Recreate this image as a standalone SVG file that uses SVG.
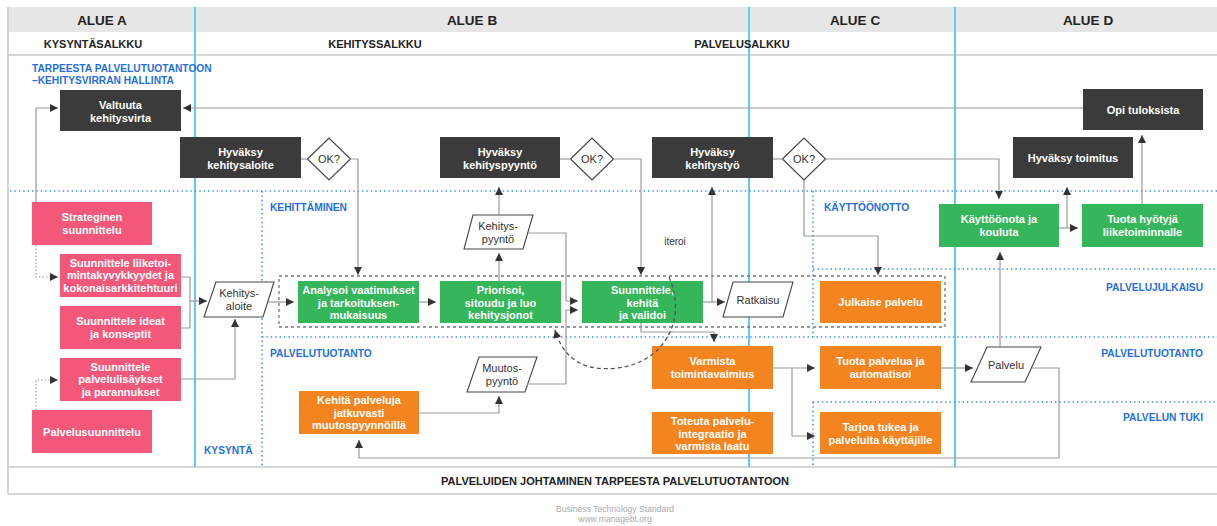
<svg xmlns="http://www.w3.org/2000/svg" width="1217" height="526" viewBox="0 0 1217 526">
  <style>
    .hdr { font-family: "Liberation Sans", Arial, sans-serif; font-weight: bold; font-size: 13.5px; fill: #222; text-anchor: middle; }
    .sub { font-family: "Liberation Sans", Arial, sans-serif; font-weight: bold; font-size: 11px; fill: #222; text-anchor: middle; }
    .lane { font-family: "Liberation Sans", Arial, sans-serif; font-weight: bold; font-size: 10.2px; fill: #1f6fdf; }
    .lane-r { font-family: "Liberation Sans", Arial, sans-serif; font-weight: bold; font-size: 10.2px; fill: #1f6fdf; text-anchor: end; }
    .nt { font-family: "Liberation Sans", Arial, sans-serif; font-weight: bold; font-size: 11px; fill: #fff; text-anchor: middle; }
    .pt { font-family: "Liberation Sans", Arial, sans-serif; font-size: 11px; fill: #333; text-anchor: middle; }
    .small { font-family: "Liberation Sans", Arial, sans-serif; font-size: 10px; fill: #333; text-anchor: middle; }
    .foot { font-family: "Liberation Sans", Arial, sans-serif; font-size: 8.6px; fill: #aaa; text-anchor: middle; }
    .dark { fill: #3b3b3b; }
    .pink { fill: #f3587b; }
    .green { fill: #35b65a; }
    .orange { fill: #f4841f; }
    .para { fill: #fff; stroke: #444; stroke-width: 1.1; }
    .dia { fill: #fff; stroke: #444; stroke-width: 1.2; }
    .frame { stroke: #c8c8c8; stroke-width: 1.5; fill: none; }
    .col { stroke: #5fcdf2; stroke-width: 2; }
    .laneline { stroke: #3b8ef0; stroke-width: 1.6; stroke-dasharray: 1.4 3; fill: none; }
    .c { stroke: #9a9a9a; stroke-width: 1.2; fill: none; }
    .ca { stroke: #9a9a9a; stroke-width: 1.2; fill: none; marker-end: url(#ah); }
    .dot { stroke: #9a9a9a; stroke-width: 1.2; fill: none; stroke-dasharray: 1.5 2; marker-end: url(#ah); }
    .dash { stroke: #555; stroke-width: 1.3; fill: none; stroke-dasharray: 4 3; marker-end: url(#ah); }
    .grp { stroke: #777; stroke-width: 1.3; fill: none; stroke-dasharray: 3 3; }
  </style>
  <defs>
    <marker id="ah" viewBox="0 0 10 10" refX="10" refY="5" markerWidth="9" markerHeight="8" markerUnits="userSpaceOnUse" orient="auto">
      <path d="M0,0 L10,5 L0,10 z" fill="#333"/>
    </marker>
  </defs>

  <rect width="1217" height="526" fill="#fff"/>

  <!-- frame and column headers -->
  <g id="frame">
    <rect x="8" y="7" width="1209" height="25" fill="#e6e6e6"/>
    <line class="frame" x1="8" y1="7" x2="8" y2="494"/>
    <line class="frame" x1="8" y1="55" x2="1217" y2="55"/>
    <line class="frame" x1="8" y1="467" x2="1217" y2="467"/>
    <line class="frame" x1="8" y1="494" x2="1217" y2="494"/>
    <line class="col" x1="195" y1="7" x2="195" y2="467"/>
    <line class="col" x1="749" y1="7" x2="749" y2="467"/>
    <line class="col" x1="955" y1="7" x2="955" y2="467"/>
    <text class="hdr" x="102" y="25">ALUE A</text>
    <text class="hdr" x="472" y="25">ALUE B</text>
    <text class="hdr" x="855" y="25">ALUE C</text>
    <text class="hdr" x="1088" y="25">ALUE D</text>
    <text class="sub" x="93" y="48">KYSYNTÄSALKKU</text>
    <text class="sub" x="375" y="48">KEHITYSSALKKU</text>
    <text class="sub" x="742" y="48">PALVELUSALKKU</text>
    <text class="sub" x="615" y="485">PALVELUIDEN JOHTAMINEN TARPEESTA PALVELUTUOTANTOON</text>
    <text class="foot" x="615" y="512">Business Technology Standard</text>
    <text class="foot" x="615" y="522">www.managebt.org</text>
  </g>

  <!-- swimlane separators and labels -->
  <g id="lanes">
    <line class="laneline" x1="10" y1="191" x2="1217" y2="191"/>
    <line class="laneline" x1="262" y1="191" x2="262" y2="467"/>
    <line class="laneline" x1="262" y1="337" x2="1217" y2="337"/>
    <line class="laneline" x1="813" y1="191" x2="813" y2="337"/>
    <line class="laneline" x1="813" y1="269" x2="1217" y2="269"/>
    <line class="laneline" x1="813" y1="402" x2="1217" y2="402"/>
    <line class="laneline" x1="813" y1="402" x2="813" y2="467"/>
    <text class="lane" x="32" y="72">TARPEESTA PALVELUTUOTANTOON</text>
    <text class="lane" x="32" y="84">–KEHITYSVIRRAN HALLINTA</text>
    <text class="lane" x="270" y="211">KEHITTÄMINEN</text>
    <text class="lane" x="270" y="357">PALVELUTUOTANTO</text>
    <text class="lane" x="204" y="454">KYSYNTÄ</text>
    <text class="lane" x="824" y="211">KÄYTTÖÖNOTTO</text>
    <text class="lane-r" x="1203" y="291">PALVELUJULKAISU</text>
    <text class="lane-r" x="1203" y="357">PALVELUTUOTANTO</text>
    <text class="lane-r" x="1203" y="421">PALVELUN TUKI</text>
  </g>

  <!-- development stream grouping -->
  <rect class="grp" x="279" y="276" width="666" height="51"/>

  <!-- governance row -->
  <g id="valtuuta"><rect class="dark" x="60" y="90" width="121" height="41"/>
    <text class="nt"><tspan x="120.5" y="109">Valtuuta</tspan><tspan x="120.5" y="121.5">kehitysvirta</tspan></text></g>
  <g id="hyvaksy-aloite"><rect class="dark" x="180" y="137" width="121" height="41"/>
    <text class="nt"><tspan x="240.5" y="156">Hyväksy</tspan><tspan x="240.5" y="168.5">kehitysaloite</tspan></text></g>
  <g id="ok1"><path class="dia" d="M307.5,159 L329,138 L350.5,159 L329,180 z"/>
    <text class="pt" x="329" y="163">OK?</text></g>
  <g id="hyvaksy-pyynto"><rect class="dark" x="440" y="137" width="120" height="41"/>
    <text class="nt"><tspan x="500" y="156">Hyväksy</tspan><tspan x="500" y="168.5">kehityspyyntö</tspan></text></g>
  <g id="ok2"><path class="dia" d="M570.5,159 L592,138 L613.5,159 L592,180 z"/>
    <text class="pt" x="592" y="163">OK?</text></g>
  <g id="hyvaksy-tyo"><rect class="dark" x="652" y="137" width="121" height="41"/>
    <text class="nt"><tspan x="712.5" y="156">Hyväksy</tspan><tspan x="712.5" y="168.5">kehitystyö</tspan></text></g>
  <g id="ok3"><path class="dia" d="M782.5,159 L804,138 L825.5,159 L804,180 z"/>
    <text class="pt" x="804" y="163">OK?</text></g>
  <g id="hyvaksy-toimitus"><rect class="dark" x="1013" y="137" width="120" height="41"/>
    <text class="nt" x="1073" y="162">Hyväksy toimitus</text></g>
  <g id="opi"><rect class="dark" x="1083" y="89" width="120" height="41"/>
    <text class="nt" x="1143" y="114">Opi tuloksista</text></g>

  <!-- demand (area A) -->
  <g id="strateginen"><rect class="pink" x="32" y="202" width="120" height="43"/>
    <text class="nt"><tspan x="92" y="221">Strateginen</tspan><tspan x="92" y="233.5">suunnittelu</tspan></text></g>
  <g id="liiketoiminta"><rect class="pink" x="60" y="254" width="121" height="43"/>
    <text class="nt"><tspan x="120.5" y="266.5">Suunnittele liiketoi-</tspan><tspan x="120.5" y="279">mintakyvykkyydet ja</tspan><tspan x="120.5" y="291.5">kokonaisarkkitehtuuri</tspan></text></g>
  <g id="ideat"><rect class="pink" x="60" y="306" width="121" height="43"/>
    <text class="nt"><tspan x="120.5" y="325">Suunnittele ideat</tspan><tspan x="120.5" y="337.5">ja konseptit</tspan></text></g>
  <g id="lisaykset"><rect class="pink" x="60" y="358" width="121" height="43"/>
    <text class="nt"><tspan x="120.5" y="370.5">Suunnittele</tspan><tspan x="120.5" y="383">palvelulisäykset</tspan><tspan x="120.5" y="395.5">ja parannukset</tspan></text></g>
  <g id="palvelusuunnittelu"><rect class="pink" x="32" y="410" width="120" height="43"/>
    <text class="nt" x="92" y="436">Palvelusuunnittelu</text></g>
  <g id="kehitysaloite"><path class="para" d="M216,282 L274,282 L263,317 L204,317 z"/>
    <text class="pt"><tspan x="239" y="297">Kehitys-</tspan><tspan x="239" y="310">aloite</tspan></text></g>

  <!-- development -->
  <g id="analysoi"><rect class="green" x="298" y="281" width="121" height="42"/>
    <text class="nt"><tspan x="358.5" y="294">Analysoi vaatimukset</tspan><tspan x="358.5" y="306.5">ja tarkoituksen-</tspan><tspan x="358.5" y="319">mukaisuus</tspan></text></g>
  <g id="priorisoi"><rect class="green" x="440" y="281" width="121" height="42"/>
    <text class="nt"><tspan x="500.5" y="294">Priorisoi,</tspan><tspan x="500.5" y="306.5">sitoudu ja luo</tspan><tspan x="500.5" y="319">kehitysjonot</tspan></text></g>
  <g id="kehityspyynto"><path class="para" d="M473,215 L533,215 L523,249 L464,249 z"/>
    <text class="pt"><tspan x="498" y="229.5">Kehitys-</tspan><tspan x="498" y="242.5">pyyntö</tspan></text></g>
  <g id="suunnittele"><rect class="green" x="582" y="281" width="121" height="42"/>
    <text class="nt"><tspan x="642.5" y="294">Suunnittele,</tspan><tspan x="642.5" y="306.5">kehitä</tspan><tspan x="642.5" y="319">ja validoi</tspan></text></g>
  <g id="ratkaisu"><path class="para" d="M733,282 L793,282 L783,317 L723,317 z"/>
    <text class="pt" x="758" y="304">Ratkaisu</text></g>
  <g id="julkaise"><rect class="orange" x="820" y="281" width="121" height="42"/>
    <text class="nt" x="880.5" y="306">Julkaise palvelu</text></g>

  <!-- deployment -->
  <g id="kayttoonota"><rect class="green" x="939" y="204" width="120" height="43"/>
    <text class="nt"><tspan x="999" y="223">Käyttöönota ja</tspan><tspan x="999" y="235.5">kouluta</tspan></text></g>
  <g id="hyotyja"><rect class="green" x="1082" y="204" width="121" height="43"/>
    <text class="nt"><tspan x="1142.5" y="223">Tuota hyötyjä</tspan><tspan x="1142.5" y="235.5">liiketoiminnalle</tspan></text></g>

  <!-- service production -->
  <g id="muutospyynto"><path class="para" d="M479,357 L537,357 L525,392 L467,392 z"/>
    <text class="pt"><tspan x="502" y="372">Muutos-</tspan><tspan x="502" y="385">pyyntö</tspan></text></g>
  <g id="kehita"><rect class="orange" x="299" y="391" width="120" height="43"/>
    <text class="nt"><tspan x="359" y="404">Kehitä palveluja</tspan><tspan x="359" y="416.5">jatkuvasti</tspan><tspan x="359" y="429">muutospyynnöillä</tspan></text></g>
  <g id="varmista"><rect class="orange" x="652" y="346" width="121" height="43"/>
    <text class="nt"><tspan x="712.5" y="365">Varmista</tspan><tspan x="712.5" y="377.5">toimintavalmius</tspan></text></g>
  <g id="toteuta"><rect class="orange" x="652" y="412" width="121" height="42"/>
    <text class="nt"><tspan x="712.5" y="425">Toteuta palvelu-</tspan><tspan x="712.5" y="437.5">integraatio ja</tspan><tspan x="712.5" y="450">varmista laatu</tspan></text></g>
  <g id="tuota"><rect class="orange" x="820" y="346" width="121" height="43"/>
    <text class="nt"><tspan x="880.5" y="365">Tuota palvelua ja</tspan><tspan x="880.5" y="377.5">automatisoi</tspan></text></g>
  <g id="tarjoa"><rect class="orange" x="820" y="412" width="121" height="42"/>
    <text class="nt"><tspan x="880.5" y="431">Tarjoa tukea ja</tspan><tspan x="880.5" y="443.5">palveluita käyttäjille</tspan></text></g>
  <g id="palvelu"><path class="para" d="M987,347 L1041,347 L1025,382 L971,382 z"/>
    <text class="pt" x="1006" y="368.5">Palvelu</text></g>

  <!-- connectors, drawn last so the iteration loop shows over the build step -->
  <g id="connectors">
    <path class="ca" d="M36,202 V108 H58"/>
    <path class="ca" d="M1083,108 H183"/>
    <path class="dot" d="M36,245 V277 H58"/>
    <path class="dot" d="M36,410 V380 H58"/>
    <path class="c" d="M181,277 H190 V328 H181"/>
    <path class="ca" d="M190,301 H207"/>
    <path class="ca" d="M181,379 H235 V319"/>
    <path class="ca" d="M268,302 H294"/>
    <path class="c" d="M301,159 H307"/>
    <path class="ca" d="M350,159 H358 V275"/>
    <path class="ca" d="M419,302 H436"/>
    <path class="ca" d="M499,281 V253"/>
    <path class="ca" d="M499,215 V187"/>
    <path class="c" d="M560,159 H571"/>
    <path class="ca" d="M613,159 H641 V275"/>
    <path class="ca" d="M528,233 H566 V301 H578"/>
    <path class="ca" d="M527,384 H566 V310 H578"/>
    <path class="ca" d="M419,413 H499 V396"/>
    <path class="ca" d="M703,302 H725"/>
    <path class="ca" d="M712,302 V187"/>
    <path class="c" d="M773,159 H783"/>
    <path class="ca" d="M825,159 H999 V199"/>
    <path class="ca" d="M804,180 V236 H878 V275"/>
    <path class="ca" d="M641,323 V332 H714 V342"/>
    <path class="ca" d="M773,368 H815"/>
    <path class="ca" d="M792,368 V436 H815"/>
    <path class="ca" d="M941,368 H973"/>
    <path class="ca" d="M1000,347 V252"/>
    <path class="ca" d="M1032,368 H1059 V458 H359 V440"/>
    <path class="ca" d="M1059,228 H1078"/>
    <path class="ca" d="M1067,228 V187"/>
    <path class="ca" d="M1142,204 V135"/>
    <path class="dash" d="M669,277 C679,300 678,325 662,345 C645,366 615,372 590,367 C572,362 561,350 555,330"/>
    <text class="small" x="675" y="245">iteroi</text>
  </g>
</svg>
